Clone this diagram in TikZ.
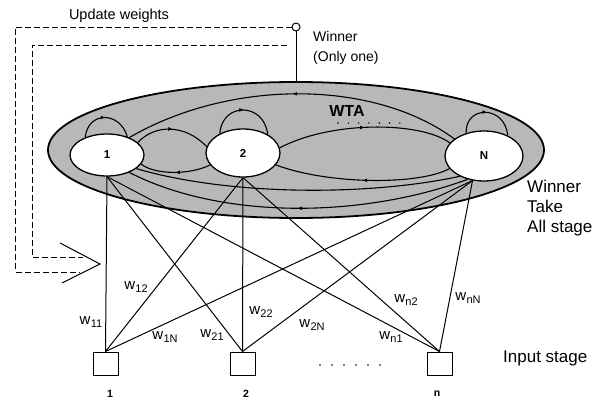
\documentclass[tikz,border=0pt]{standalone}
\usepackage{fontspec}
\setmainfont{Liberation Sans}
\usetikzlibrary{shapes.geometric,arrows.meta,decorations.markings}
\newcommand\wsub[1]{w\kern0.3pt\raisebox{-3.5pt}{\fontsize{11}{11}\selectfont #1}}
\begin{document}
\begin{tikzpicture}[x=1pt,y=-1pt,
 stageell/.style={ellipse, draw, line width=1.8pt, fill=black!28, minimum width=496pt, minimum height=136pt, inner sep=0pt},
 unit/.style={ellipse, draw, line width=1.3pt, fill=white, inner sep=0pt, font=\fontsize{11.5}{11.5}\selectfont\bfseries},
 inbox/.style={rectangle, draw, line width=1pt, fill=white, minimum width=25pt, minimum height=23pt, inner sep=0pt},
 wire/.style={line width=1pt},
 arcl/.style={line width=1.1pt},
 midarrow/.style={postaction={decorate}, decoration={markings, mark=at position #1 with {\arrow{Latex[length=4.5pt,width=4pt]}}}},
 midarrow/.default=0.5,
 fb/.style={line width=0.9pt, dash pattern=on 6pt off 3pt},
 wlab/.style={font=\fontsize{15}{15}\selectfont, inner sep=0pt},
 blab/.style={font=\fontsize{10.5}{10.5}\selectfont\bfseries, inner sep=0pt},
 dotmark/.style={fill=black}
]
\useasboundingbox (0,0) rectangle (598,401);

% WTA stage
\node[stageell] (stage) at (296,150) {};
\node[unit, minimum width=74pt, minimum height=42pt] (n1) at (107,155) {1};
\node[unit, minimum width=74pt, minimum height=48pt] (n2) at (243,153) {2};
\node[unit, minimum width=78pt, minimum height=50pt] (nN) at (484,156) {N};

% lateral connections
\draw[arcl,midarrow] (n1.22) .. controls (155,124) and (185,124) .. (n2.170);
\draw[arcl,midarrow] (n2.200) .. controls (190,175) and (155,175) .. (n1.345);
\draw[arcl,midarrow] (n2.8) .. controls (330,121) and (420,121) .. (nN.159);
\draw[arcl,midarrow] (nN.200) .. controls (420,185) and (330,185) .. (n2.340);
\draw[arcl,midarrow] (nN.150) .. controls (373,79) and (230,79) .. (n1.38);
\draw[arcl] (n1.335) .. controls (230,196) and (369,196) .. (nN.220);
\draw[arcl,midarrow] (nN.235) .. controls (359,219) and (220,219) .. (n1.322);

% self loops
\draw[arcl,midarrow] (n1.141) .. controls (88,111) and (120,111) .. (n1.42);
\draw[arcl,midarrow] (n2.140) .. controls (222,102) and (264,102) .. (n2.37);
\draw[arcl,midarrow] (nN.128) .. controls (465,105) and (505,105) .. (nN.41);

\node[font=\fontsize{16}{16}\selectfont\bfseries, inner sep=0pt] (wta) at (347,111) {WTA};
\foreach \i in {0,...,6} \fill[dotmark] (338+10.3*\i,123) circle (0.8pt);

% input stage
\node[inbox] (s1) at (105.5,363.5) {};
\node[inbox] (s2) at (242.5,363.5) {};
\node[inbox] (sn) at (439.5,363.5) {};
\foreach \s in {s1,s2,sn}
  \foreach \n/\a in {n1/south,n2/south,nN/245}
    \draw[wire] (\s.north) -- (\n.\a);

\node[wlab] (w11) at (91,322) {\wsub{11}};
\node[wlab] (w12) at (136,287) {\wsub{12}};
\node[wlab] (w1N) at (165,337) {\wsub{1N}};
\node[wlab] (w21) at (212,335) {\wsub{21}};
\node[wlab] (w22) at (261,312) {\wsub{22}};
\node[wlab] (w2N) at (312,325) {\wsub{2N}};
\node[wlab] (wn1) at (391,337) {\wsub{n1}};
\node[wlab] (wn2) at (406,300) {\wsub{n2}};
\node[wlab] (wnN) at (468,298) {\wsub{nN}};

\node[blab] (l1) at (110,393.5) {1};
\node[blab] (l2) at (246,393.5) {2};
\node[blab] (ln) at (437,393.5) {n};
\foreach \i in {0,...,5} \fill[dotmark] (320+12*\i,365) circle (0.8pt);

\node[font=\fontsize{17}{17}\selectfont, anchor=west, inner sep=0pt] (inp) at (503,358) {Input stage};
\node[font=\fontsize{17}{20}\selectfont, align=left, anchor=west, inner sep=0pt] (wtatxt) at (527,208) {Winner\\Take\\All stage};

% winner output and feedback
\node[circle, draw, line width=1pt, fill=white, minimum size=8pt, inner sep=0pt] (win) at (296,27) {};
\draw[wire] (win.south) -- (stage.north);
\node[font=\fontsize{14}{20}\selectfont, align=left, anchor=west, inner sep=0pt] (wintxt) at (313,48) {Winner\\(Only one)};
\node[font=\fontsize{14.5}{14.5}\selectfont, inner sep=0pt] (upd) at (119,16) {Update weights};

\coordinate (fbOcorner) at (15,272);
\coordinate (fbOend) at (80,272);
\coordinate (fbIstart) at (287,45);
\coordinate (fbIcorner) at (32,257);
\coordinate (fbIend) at (83,257);
\draw[fb] (win.west) -| (fbOcorner) -- (fbOend);
\draw[fb] (fbIstart) -| (fbIcorner) -- (fbIend);

\coordinate (tip) at (100,264);
\coordinate (tipA) at (60,243);
\coordinate (tipB) at (62,283);
\draw[line width=1pt] (tipA) -- (tip) -- (tipB);
\end{tikzpicture}
\end{document}
